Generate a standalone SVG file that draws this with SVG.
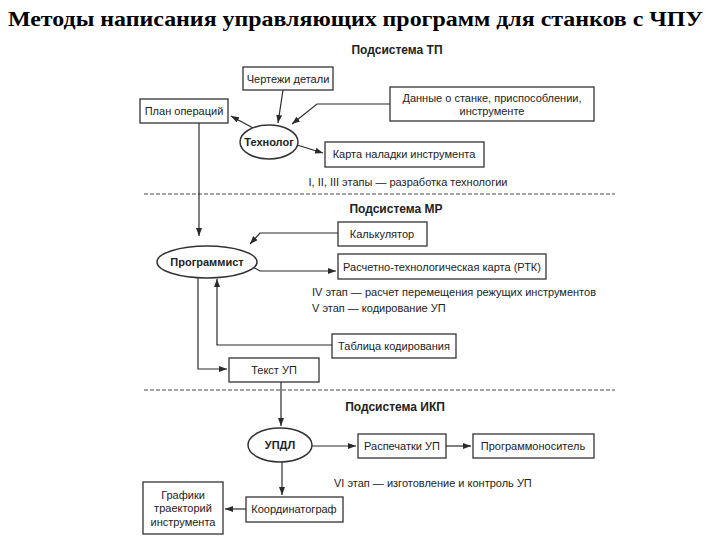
<svg xmlns="http://www.w3.org/2000/svg" width="720" height="540" viewBox="0 0 720 540">
<defs>
<marker id="ah" markerUnits="userSpaceOnUse" markerWidth="9" markerHeight="7" refX="8" refY="3" orient="auto">
<path d="M0,0 L8,3 L0,6 z" fill="#2a2a2a"/>
</marker>
<style>
.box{fill:#fff;stroke:#333;stroke-width:1.3}
.ell{fill:#fff;stroke:#333;stroke-width:1.5}
.t{font-family:"Liberation Sans",Arial,sans-serif;font-size:11px;fill:#222;text-anchor:middle}
.tl{font-family:"Liberation Sans",Arial,sans-serif;font-size:11px;fill:#222}
.b{font-family:"Liberation Sans",Arial,sans-serif;font-size:11px;font-weight:bold;fill:#222;text-anchor:middle}
.h{font-family:"Liberation Sans",Arial,sans-serif;font-size:12px;font-weight:bold;fill:#222;text-anchor:middle}
.c{fill:none;stroke:#2a2a2a;stroke-width:1.2;marker-end:url(#ah)}
.cn{fill:none;stroke:#2a2a2a;stroke-width:1.2}
.d{stroke:#888;stroke-width:1.5;stroke-dasharray:4 2}
</style>
</defs>
<rect width="720" height="540" fill="#fff"/>
<text x="8" y="26" font-family="'Liberation Serif','Times New Roman',serif" font-size="22" font-weight="bold" fill="#000" textLength="695" lengthAdjust="spacingAndGlyphs">Методы написания управляющих программ для станков с ЧПУ</text>

<g id="separators">
<line class="d" x1="144" y1="194" x2="615" y2="194"/>
<line class="d" x1="144" y1="390" x2="615" y2="390"/>
</g>

<g id="headings">
<text class="h" x="397" y="54">Подсистема ТП</text>
<text class="h" x="396" y="213">Подсистема МР</text>
<text class="h" x="395" y="411">Подсистема ИКП</text>
<text class="t" x="408" y="186">I, II, III этапы — разработка технологии</text>
<text class="tl" x="312" y="296">IV этап — расчет перемещения режущих инструментов</text>
<text class="tl" x="312" y="312">V этап — кодирование УП</text>
<text class="tl" x="334" y="487">VI этап — изготовление и контроль УП</text>
</g>

<g id="connectors">
<path class="c" d="M283,90 L278,123"/>
<path class="c" d="M390,104 L317,104 L292,124"/>
<path class="c" d="M253,128 L231,116"/>
<path class="c" d="M297,145 L323,153"/>
<path class="c" d="M199,123 L199,236"/>
<path class="c" d="M338,233 L260,233 L250,244"/>
<path class="c" d="M253,267 L260,271 L336,271"/>
<path class="c" d="M332,345 L217,345 L217,279"/>
<path class="c" d="M198,278 L198,369 L227,369"/>
<path class="c" d="M281,382 L281,426"/>
<path class="c" d="M312,446 L356,446"/>
<path class="c" d="M446,446 L471,446"/>
<path class="c" d="M282,462 L282,495"/>
<path class="c" d="M246,509 L225,509"/>
</g>

<g id="plan">
<rect class="box" x="140" y="99" width="88" height="24"/>
<text class="t" x="184" y="115">План операций</text>
</g>
<g id="drawings">
<rect class="box" x="243" y="67" width="90" height="23"/>
<text class="t" x="288" y="83">Чертежи детали</text>
</g>
<g id="data">
<rect class="box" x="390" y="87" width="204" height="34"/>
<text class="t" x="492" y="102">Данные о станке, приспособлении,</text>
<text class="t" x="492" y="115">инструменте</text>
</g>
<g id="technolog">
<ellipse class="ell" cx="269" cy="142" rx="29" ry="17"/>
<text class="b" x="269" y="146">Технолог</text>
</g>
<g id="karta">
<rect class="box" x="325" y="142" width="159" height="25"/>
<text class="t" x="404" y="158">Карта наладки инструмента</text>
</g>

<g id="calc">
<rect class="box" x="338" y="222" width="89" height="24"/>
<text class="t" x="382" y="238">Калькулятор</text>
</g>
<g id="programmist">
<ellipse class="ell" cx="207" cy="262" rx="50" ry="16"/>
<text class="b" x="207" y="266">Программист</text>
</g>
<g id="rtk">
<rect class="box" x="338" y="254" width="208" height="25"/>
<text class="t" x="442" y="271">Расчетно-технологическая карта (РТК)</text>
</g>
<g id="table">
<rect class="box" x="332" y="334" width="124" height="24"/>
<text class="t" x="394" y="350">Таблица кодирования</text>
</g>
<g id="textup">
<rect class="box" x="229" y="358" width="90" height="24"/>
<text class="t" x="274" y="374">Текст УП</text>
</g>

<g id="updl">
<ellipse class="ell" cx="280" cy="445" rx="32" ry="17"/>
<text class="b" x="280" y="449">УПДЛ</text>
</g>
<g id="raspechatki">
<rect class="box" x="358" y="434" width="88" height="24"/>
<text class="t" x="402" y="450">Распечатки УП</text>
</g>
<g id="programmonositel">
<rect class="box" x="473" y="434" width="121" height="24"/>
<text class="t" x="533" y="450">Программоноситель</text>
</g>
<g id="coord">
<rect class="box" x="246" y="497" width="97" height="25"/>
<text class="t" x="294" y="513">Координатограф</text>
</g>
<g id="grafiki">
<rect class="box" x="143" y="482" width="80" height="52"/>
<text class="t" x="183" y="499">Графики</text>
<text class="t" x="183" y="512">траекторий</text>
<text class="t" x="183" y="526">инструмента</text>
</g>
</svg>
